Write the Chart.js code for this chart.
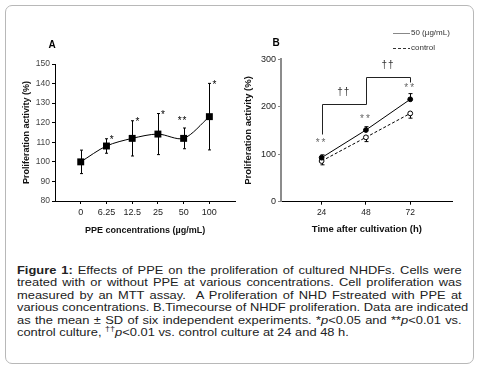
<!DOCTYPE html>
<html><head><meta charset="utf-8">
<script src="https://cdn.jsdelivr.net/npm/chart.js@4.4.1/dist/chart.umd.min.js"></script>
<style>
html,body{margin:0;padding:0;background:#fff;}
body{width:481px;height:368px;position:relative;overflow:hidden;font-family:'Liberation Sans',Arial,sans-serif;}
#frame{position:absolute;left:5px;top:5px;width:467px;height:357px;border:1px solid #b8b8b8;border-radius:7px;}
#cA{position:absolute;left:0;top:0;}
#cB{position:absolute;left:240px;top:0;}
#cap{position:absolute;left:17px;top:264px;width:397px;font-size:11.5px;line-height:12.4px;color:#222;transform:scaleX(1.12);transform-origin:0 0;}
#cap span{display:block;text-align:justify;text-align-last:justify;white-space:nowrap;}
#cap span.last{text-align-last:left;}
</style></head>
<body>
<div id="frame"></div>
<canvas id="cA" width="240" height="240"></canvas>
<canvas id="cB" width="241" height="240"></canvas>
<div id="cap">
<span><b>Figure 1:</b> Effects of PPE on the proliferation of cultured NHDFs. Cells were</span>
<span>treated with or without PPE at various concentrations. Cell proliferation was</span>
<span>measured by an MTT assay.&nbsp; A Proliferation of NHD Fstreated with PPE at</span>
<span>various concentrations. B.Timecourse of NHDF proliferation. Data are indicated</span>
<span>as the mean ± SD of six independent experiments. *<i>p</i>&lt;0.05 and **<i>p</i>&lt;0.01 vs.</span>
<span class="last">control culture, <sup style="font-size:8px;line-height:0">††</sup><i>p</i>&lt;0.01 vs. control culture at 24 and 48 h.</span>
</div>
<script>
// ---------- Panel A data ----------
const concLabels = ['0', '6.25', '12.5', '25', '50', '100'];
const prolifA = [100, 108.1, 112, 114.2, 112, 123.1];
const sdA = [6, 3.7, 9, 10.5, 5.3, 17];
const sigA = ['', '*', '*', '*', '**', '*'];
const yTicksA = [80, 90, 100, 110, 120, 130, 140, 150];

// ---------- Panel B data ----------
const hoursB = [24, 48, 72];
const treated50 = [92.7, 151, 215.7];
const sdTreated = [6, 7, 12];
const controlB = [85.7, 135.6, 186];
const sdControl = [8, 9, 10];
const sigB = ['**', '**', '**'];
const yTicksB = [0, 100, 200, 300];
// significance brackets (hours from, hours to, level)
const bracketsB = [[24, 48, 205.8], [48, 72, 263]];
const bracketEnds = [142.6, 252.8];

const FONT = "'Liberation Sans', Arial, sans-serif";

const errorBars = {
  id: 'errorBars',
  beforeDatasetsDraw(chart) {
    const ctx = chart.ctx, xs = chart.scales.x, ys = chart.scales.y;
    chart.data.datasets.forEach(ds => {
      if (!ds.errors) return;
      ctx.save();
      ctx.strokeStyle = ds.errColor || '#000';
      ctx.lineWidth = 1;
      ds.data.forEach((p, i) => {
        const e = ds.errors[i];
        const x = Math.round(xs.getPixelForValue(p.x)) + 0.5;
        const yT = ys.getPixelForValue(ds.errDir === 'down' ? p.y : p.y + e);
        const yB = ys.getPixelForValue(ds.errDir === 'up' ? p.y : p.y - e);
        const c = ds.capW || 1.5;
        ctx.beginPath();
        ctx.moveTo(x, yT); ctx.lineTo(x, yB);
        if (ds.errDir !== 'down') { ctx.moveTo(x - c, yT); ctx.lineTo(x + c, yT); }
        if (ds.errDir !== 'up') { ctx.moveTo(x - c, yB); ctx.lineTo(x + c, yB); }
        ctx.stroke();
      });
      ctx.restore();
    });
  }
};

const notes = {
  id: 'notes',
  afterDatasetsDraw(chart, args, opts) {
    const ctx = chart.ctx, xs = chart.scales.x, ys = chart.scales.y;
    ctx.save();
    (opts.lines || []).forEach(l => {
      ctx.strokeStyle = l.color; ctx.lineWidth = 1;
      ctx.beginPath();
      l.pts.forEach((p, i) => {
        const px = Math.round(xs.getPixelForValue(p[0])) + 0.5;
        const py = Math.round(ys.getPixelForValue(p[1])) + 0.5;
        if (i === 0) ctx.moveTo(px, py); else ctx.lineTo(px, py);
      });
      ctx.stroke();
    });
    (opts.texts || []).forEach(t => {
      ctx.font = t.font; ctx.fillStyle = t.color;
      ctx.letterSpacing = t.spacing || '0px';
      ctx.textAlign = 'center'; ctx.textBaseline = 'middle';
      ctx.fillText(t.text, xs.getPixelForValue(t.x), ys.getPixelForValue(t.y));
    });
    ctx.letterSpacing = '0px';
    (opts.pixelTexts || []).forEach(t => {
      ctx.font = t.font; ctx.fillStyle = t.color;
      ctx.textAlign = t.align || 'left'; ctx.textBaseline = 'middle';
      ctx.fillText(t.text, t.px, t.py);
    });
    (opts.legend || []).forEach(l => {
      ctx.strokeStyle = l.color; ctx.lineWidth = 1;
      ctx.setLineDash(l.dash || []);
      ctx.beginPath(); ctx.moveTo(l.x0, l.y + 0.5); ctx.lineTo(l.x1, l.y + 0.5); ctx.stroke();
      ctx.setLineDash([]);
      ctx.font = l.font; ctx.fillStyle = '#333';
      ctx.textAlign = 'left'; ctx.textBaseline = 'middle';
      ctx.fillText(l.text, l.x1 + 1, l.y);
    });
    ctx.restore();
  }
};

// ---------- Chart A ----------
new Chart(document.getElementById('cA'), {
  type: 'line',
  data: {
    datasets: [{
      data: prolifA.map((v, i) => ({ x: i, y: v })),
      errors: sdA, errDir: 'both', capW: 1.5,
      borderColor: '#000', borderWidth: 1, tension: 0.3,
      pointStyle: 'rect', pointRadius: 4.9, pointBackgroundColor: '#000', pointBorderColor: '#000', pointBorderWidth: 0
    }]
  },
  options: {
    responsive: false, animation: false, devicePixelRatio: 1,
    layout: { padding: { left: 21.6, top: 64, right: 3.3, bottom: 3.6 } },
    plugins: {
      legend: { display: false }, tooltip: { enabled: false },
      notes: {
        texts: sigA.map((s, i) => ({ text: s, x: i + (s === '**' ? -0.04 : 0.2), y: prolifA[i] + (s === '**' ? 8.5 : sdA[i] - 1), font: '10px ' + FONT, color: '#000', spacing: s === '**' ? '1px' : '0px' })).filter(t => t.text),
        pixelTexts: [{ text: 'A', px: 52, py: 45, font: 'bold 10px ' + FONT, color: '#000', align: 'center' }]
      }
    },
    scales: {
      x: {
        type: 'linear', min: -1, max: 6,
        afterFit: s => { s.height = 35.4; },
        afterBuildTicks: s => { s.ticks = concLabels.map((_, i) => ({ value: i })); },
        grid: { display: true, drawOnChartArea: false, tickLength: 3, color: '#000' },
        border: { display: true, color: '#000', width: 1 },
        ticks: { autoSkip: false, maxRotation: 0, padding: 3, color: '#222', font: { family: FONT, size: 9 }, callback: v => concLabels[v] },
        title: { display: true, text: 'PPE concentrations (µg/mL)', color: '#111', padding: 0, font: { family: FONT, size: 9, weight: 'bold' } }
      },
      y: {
        min: 80, max: 150,
        afterFit: s => { s.width = 33.4; },
        afterBuildTicks: s => { s.ticks = yTicksA.map(v => ({ value: v })); },
        grid: { display: true, drawOnChartArea: false, tickLength: 3, color: '#000' },
        border: { display: true, color: '#000', width: 1 },
        ticks: { padding: 2, color: '#444', font: { family: FONT, size: 8.5 } },
        title: { display: true, text: 'Proliferation activity (%)', color: '#111', padding: 0, font: { family: FONT, size: 9, weight: 'bold' } }
      }
    }
  },
  plugins: [errorBars, notes]
});

// ---------- Chart B ----------
const bLines = [
  { color: '#222', pts: [[bracketsB[0][0], bracketEnds[0]], [bracketsB[0][0], bracketsB[0][2]], [bracketsB[0][1], bracketsB[0][2]], [bracketsB[1][0], bracketsB[1][2]], [bracketsB[1][1], bracketsB[1][2]], [bracketsB[1][1], bracketEnds[1]]] }
];
new Chart(document.getElementById('cB'), {
  type: 'line',
  data: {
    datasets: [{
      label: '50 (µg/mL)',
      data: treated50.map((v, i) => ({ x: hoursB[i], y: v })),
      errors: sdTreated, errDir: 'up', capW: 2,
      borderColor: '#000', borderWidth: 1, tension: 0,
      pointStyle: 'circle', pointRadius: 2.4, pointBackgroundColor: '#000', pointBorderColor: '#000', pointBorderWidth: 1
    }, {
      label: 'control',
      data: controlB.map((v, i) => ({ x: hoursB[i], y: v })),
      errors: sdControl, errDir: 'down', capW: 2,
      borderColor: '#000', borderWidth: 1, borderDash: [3, 2], tension: 0,
      pointStyle: 'circle', pointRadius: 2.4, pointBackgroundColor: '#fff', pointBorderColor: '#000', pointBorderWidth: 1
    }]
  },
  options: {
    responsive: false, animation: false, devicePixelRatio: 1,
    layout: { padding: { left: 2.6, top: 59.3, right: 28.3, bottom: 4.6 } },
    plugins: {
      legend: { display: false }, tooltip: { enabled: false },
      notes: {
        lines: bLines,
        texts: sigB.map((s, i) => ({ text: s, x: hoursB[i], y: [124, 173.6, 240][i], font: '10px ' + FONT, color: '#666', spacing: '2px' }))
          .concat([{ text: '††', x: 36, y: 229.6, font: '10px ' + FONT, color: '#333', spacing: '1px' }, { text: '††', x: 60, y: 288, font: '10px ' + FONT, color: '#333', spacing: '1px' }]),
        pixelTexts: [{ text: 'B', px: 36, py: 43, font: 'bold 10px ' + FONT, color: '#000', align: 'center' }],
        legend: [
          { text: '50 (µg/mL)', x0: 153, x1: 170, y: 33, color: '#888', dash: [], font: '8px ' + FONT },
          { text: 'control', x0: 153, x1: 170, y: 48, color: '#333', dash: [3, 2], font: '8px ' + FONT }
        ]
      }
    },
    scales: {
      x: {
        type: 'linear', min: 2, max: 95,
        afterFit: s => { s.height = 33.7; },
        afterBuildTicks: s => { s.ticks = hoursB.map(v => ({ value: v })); },
        grid: { display: true, drawOnChartArea: false, tickLength: 3, color: '#000' },
        border: { display: true, color: '#000', width: 1 },
        ticks: { autoSkip: false, maxRotation: 0, padding: 3, color: '#222', font: { family: FONT, size: 8.5 } },
        title: { display: true, text: 'Time after cultivation (h)', color: '#111', padding: 0, font: { family: FONT, size: 9.5, weight: 'bold' } }
      },
      y: {
        min: 0, max: 300,
        afterFit: s => { s.width = 38.4; },
        afterBuildTicks: s => { s.ticks = yTicksB.map(v => ({ value: v })); },
        grid: { display: true, drawOnChartArea: false, tickLength: 3, color: '#888' },
        border: { display: true, color: '#8c8c8c', width: 2 },
        ticks: { padding: 2, color: '#222', font: { family: FONT, size: 9 } },
        title: { display: true, text: 'Proliferation activity (%)', color: '#111', padding: 0, font: { family: FONT, size: 9.5, weight: 'bold' } }
      }
    }
  },
  plugins: [errorBars, notes]
});
</script>
</body></html>
